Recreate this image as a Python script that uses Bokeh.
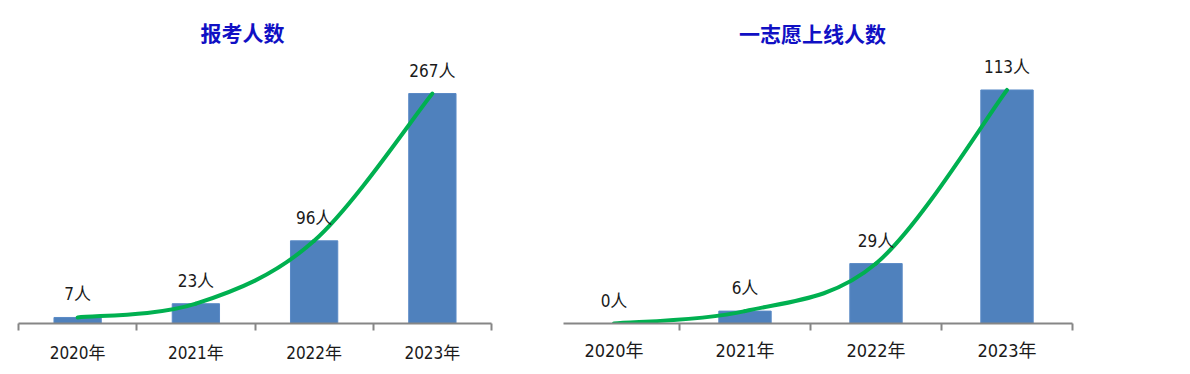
import numpy as np
from bokeh.plotting import figure
from bokeh.layouts import row
from bokeh.models import Range1d, FixedTicker, Label
from bokeh.core.properties import value
from bokeh.embed import file_html
from bokeh.resources import INLINE

years = ["2020年", "2021年", "2022年", "2023年"]
applicants = [7, 23, 96, 267]
first_choice = [0, 6, 29, 113]
title_left = "报考人数"
title_right = "一志愿上线人数"

BAR = "#4F81BD"
GREEN = "#00B050"
AXIS = "#868686"
TITLE_C = "#1010C4"
FONT = "Noto Sans CJK SC"
NUMFONT = "'DejaVu Sans Condensed', 'Noto Sans CJK SC'"


def catmull_bezier(xs, ys):
    xs = np.asarray(xs, float)
    ys = np.asarray(ys, float)
    n = len(xs)
    px = np.concatenate([[xs[0]], xs, [xs[-1]]])
    py = np.concatenate([[ys[0]], ys, [ys[-1]]])
    seg = dict(x0=[], y0=[], x1=[], y1=[], cx0=[], cy0=[], cx1=[], cy1=[])
    for i in range(n - 1):
        p0x, p1x, p2x, p3x = px[i], px[i + 1], px[i + 2], px[i + 3]
        p0y, p1y, p2y, p3y = py[i], py[i + 1], py[i + 2], py[i + 3]
        seg["x0"].append(p1x); seg["y0"].append(p1y)
        seg["x1"].append(p2x); seg["y1"].append(p2y)
        seg["cx0"].append(p1x + (p2x - p0x) / 6); seg["cy0"].append(p1y + (p2y - p0y) / 6)
        seg["cx1"].append(p2x - (p3x - p1x) / 6); seg["cy1"].append(p2y - (p3y - p1y) / 6)
    return seg


def make_chart(vals, title, width, x_start, y_end, b_left, b_right, b_bottom,
               title_x, title_y, axis_fs, standoff):
    centers = [i + 0.5 for i in range(len(years))]
    p = figure(width=width, height=374, output_backend="svg", toolbar_location=None,
               x_range=Range1d(x_start, len(years)), y_range=Range1d(0, y_end),
               y_axis_location=None, min_border=0)
    p.min_border_left = b_left
    p.min_border_right = b_right
    p.min_border_bottom = b_bottom
    p.min_border_top = 0
    p.outline_line_color = None
    p.xgrid.grid_line_color = None
    p.ygrid.grid_line_color = None
    p.background_fill_color = "white"

    p.vbar(x=centers, top=vals, width=0.4, fill_color=BAR, line_color="#5A8AC6", line_width=1)

    seg = catmull_bezier(centers, vals)
    p.bezier(x0=seg["x0"], y0=seg["y0"], x1=seg["x1"], y1=seg["y1"],
             cx0=seg["cx0"], cy0=seg["cy0"], cx1=seg["cx1"], cy1=seg["cy1"],
             line_color=GREEN, line_width=4, line_cap="round")

    p.text(x=centers, y=vals, text=[f"{v}人" for v in vals],
           text_font=value(NUMFONT), text_font_size="17px", text_color="#1a1a1a",
           text_align="center", text_baseline="middle", y_offset=-23)

    ax = p.xaxis[0]
    ax.ticker = FixedTicker(ticks=centers, minor_ticks=list(range(len(years) + 1)))
    ax.major_label_overrides = {c: y for c, y in zip(centers, years)}
    ax.major_tick_line_color = None
    ax.major_tick_out = 0
    ax.major_tick_in = 0
    ax.minor_tick_line_color = AXIS
    ax.minor_tick_line_width = 2
    ax.minor_tick_out = 7
    ax.minor_tick_in = 0
    ax.axis_line_color = AXIS
    ax.axis_line_width = 2
    ax.major_label_text_font = NUMFONT
    ax.major_label_text_font_size = axis_fs
    ax.major_label_text_color = "#1a1a1a"
    ax.major_label_standoff = standoff

    p.add_layout(Label(x=title_x, y=title_y, text=title, text_font=FONT,
                       text_font_size="21px", text_font_style="bold",
                       text_color=TITLE_C, text_align="center", text_baseline="middle"))
    return p


left = make_chart(applicants, title_left, 545, 0, 375.0, 18, 54, 51,
                  1.894, 338.0, "17px", 12)
right = make_chart(first_choice, title_right, 645, 15 / 131, 156.3, 18, 118, 49,
                   (812 - 548) / 131, 140.4, "18px", 9)

layout = row(left, right)
open("out.html", "w").write(file_html(layout, INLINE))
